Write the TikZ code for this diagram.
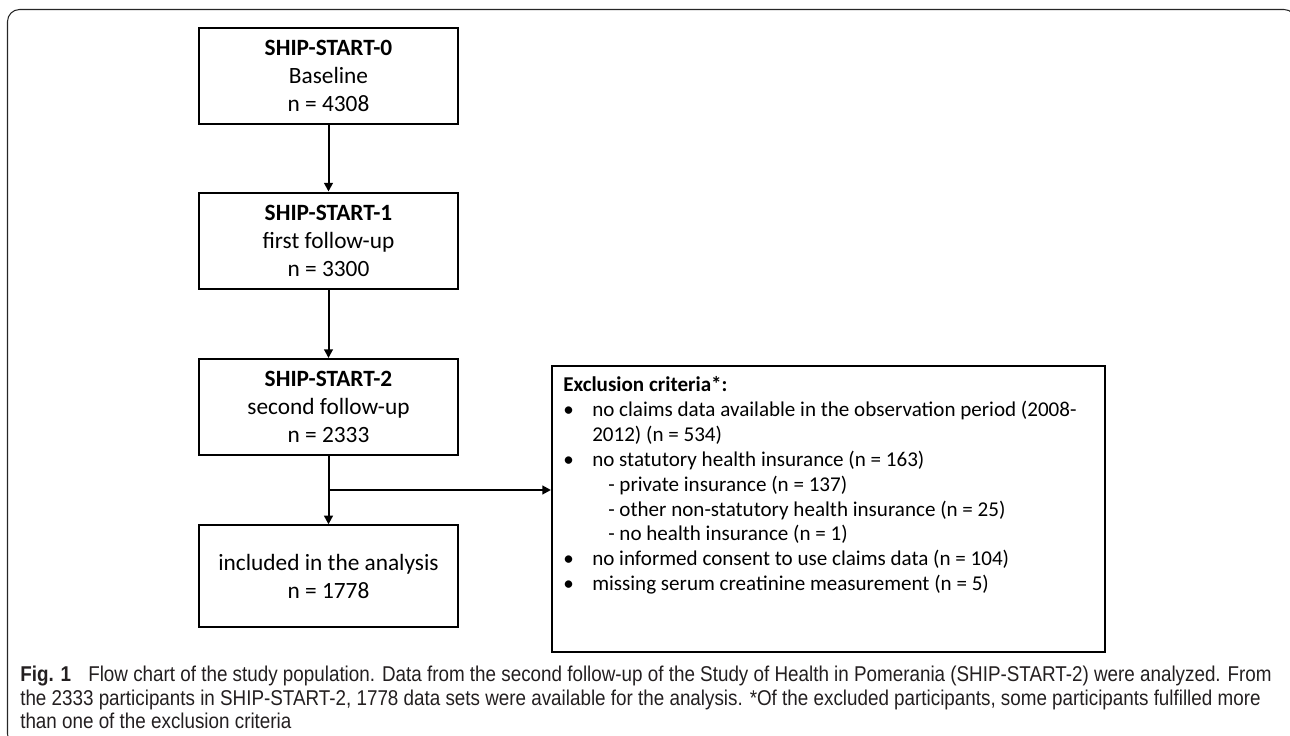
\documentclass[tikz,border=0pt]{standalone}
\usepackage{fontspec}
\setmainfont{Carlito}
\newfontfamily\capfont[FakeStretch=0.88]{Liberation Sans}
\usetikzlibrary{arrows.meta}
\definecolor{captext}{HTML}{231F20}
\begin{document}
\begin{tikzpicture}[x=0.75pt,y=-0.75pt,
 flowbox/.style={draw, line width=1.5pt, minimum width=194pt, minimum height=72pt, align=center, inner sep=0pt, font=\fontsize{17.5}{21}\selectfont},
 conn/.style={line width=1.5pt, -{Triangle[length=6.5pt,width=6.5pt]}},
 frame/.style={line width=0.8pt, draw=black!85, rounded corners=9pt},
]
\useasboundingbox (0,0) rectangle (1290,736);
\begin{scope}
\clip (0,0) rectangle (1290,736);
\draw[frame] (7.5,9.5) rectangle (1296,746);
\end{scope}
\node[flowbox] (s0) at (328.5,76) {\textbf{SHIP-START-0}\\Baseline\\n = 4308};
\node[flowbox] (s1) at (328.5,240.5) {\textbf{SHIP-START-1}\\first follow-up\\n = 3300};
\node[flowbox] (s2) at (328.5,407) {\textbf{SHIP-START-2}\\second follow-up\\n = 2333};
\node[flowbox, minimum height=76pt] (inc) at (328.5,576) {included in the analysis\\n = 1778};
\node[draw, line width=1.5pt, minimum width=414.75pt, minimum height=214.5pt, inner sep=0pt] (excl) at (828.5,509) {};
\node[anchor=north west, align=left, inner sep=0pt, font=\fontsize{15.8}{18.7}\selectfont] (excltext) at (563,376) {\textbf{Exclusion criteria*:}\\
\makebox[21.75pt][l]{\textbullet}no claims data available in the observation period (2008-\\
\hspace*{21.75pt}2012) (n = 534)\\
\makebox[21.75pt][l]{\textbullet}no statutory health insurance (n = 163)\\
\hspace*{33.75pt}- private insurance (n = 137)\\
\hspace*{33.75pt}- other non-statutory health insurance (n = 25)\\
\hspace*{33.75pt}- no health insurance (n = 1)\\
\makebox[21.75pt][l]{\textbullet}no informed consent to use claims data (n = 104)\\
\makebox[21.75pt][l]{\textbullet}missing serum creatinine measurement (n = 5)};
\draw[conn] (s0) -- (s1);
\draw[conn] (s1) -- (s2);
\draw[conn] (s2) -- (inc);
\coordinate (br) at (328.5,490);
\draw[conn] (br) -- (br -| excl.west);
\node[anchor=north west, align=left, inner sep=0pt, text=captext, font=\capfont\fontsize{16.05}{17.6}\selectfont] (cap) at (20,666) {\textbf{Fig. 1}\hspace{0.8em}Flow chart of the study population. Data from the second follow-up of the Study of Health in Pomerania (SHIP-START-2) were analyzed. From\\
the 2333 participants in SHIP-START-2, 1778 data sets were available for the analysis. *Of the excluded participants, some participants fulfilled more\\
than one of the exclusion criteria};
\end{tikzpicture}
\end{document}
